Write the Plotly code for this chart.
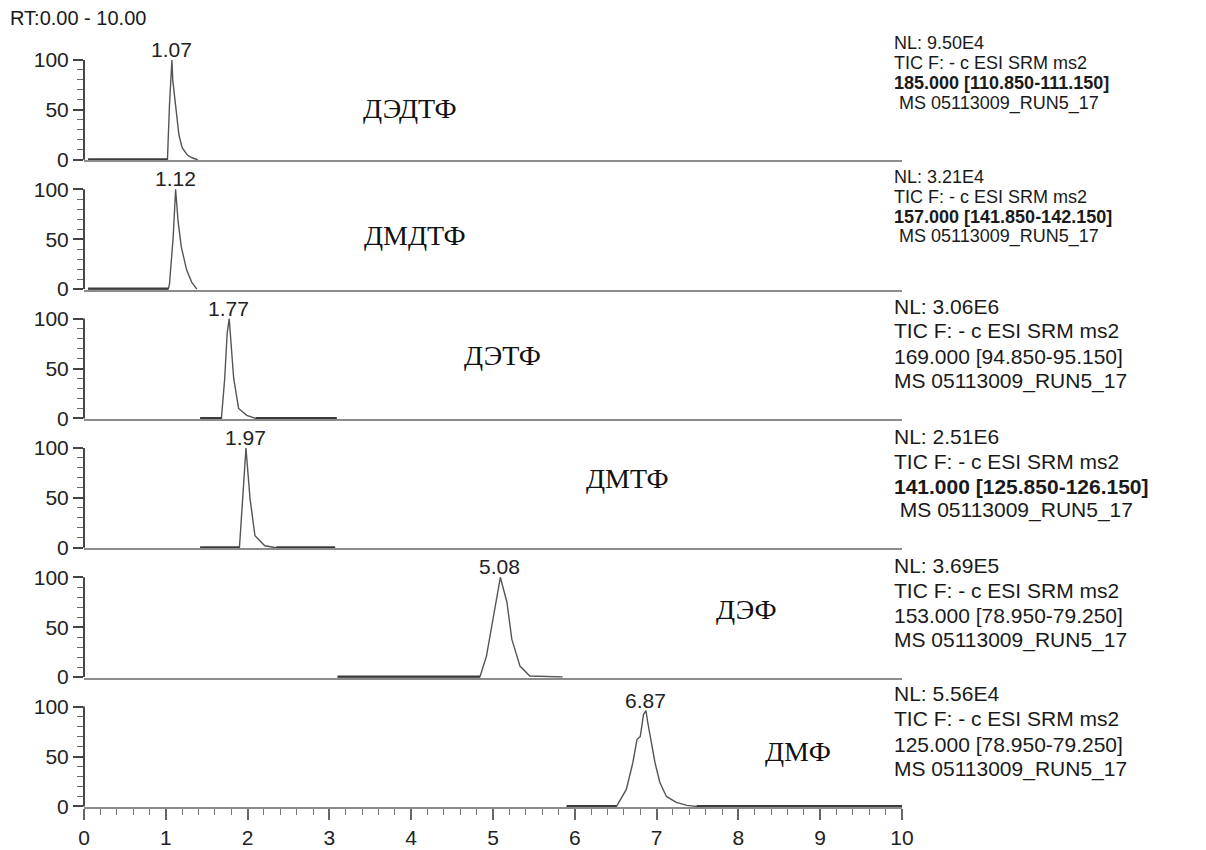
import plotly.graph_objects as go

# ---------------- data ----------------
compounds = ["ДЭДТФ", "ДМДТФ", "ДЭТФ", "ДМТФ", "ДЭФ", "ДМФ"]
retention_times = [1.07, 1.12, 1.77, 1.97, 5.08, 6.87]
nl_values = ["9.50E4", "3.21E4", "3.06E6", "2.51E6", "3.69E5", "5.56E4"]
srm_ranges = ["185.000 [110.850-111.150]", "157.000 [141.850-142.150]",
              "169.000 [94.850-95.150]", "141.000 [125.850-126.150]",
              "153.000 [78.950-79.250]", "125.000 [78.950-79.250]"]
scan_filter = "TIC F: - c ESI SRM ms2"
raw_file = "MS 05113009_RUN5_17"
rt_range_label = "RT:0.00 - 10.00"

# chromatograms (time, min ; relative abundance, %)
dedtf_t = [0.05, 1.02, 1.045, 1.075, 1.085, 1.10, 1.13, 1.16, 1.20, 1.26, 1.32, 1.39]
dedtf_i = [0, 0, 55, 100, 80, 68, 45, 25, 12, 5, 2, 0]

dmdtf_t = [0.05, 1.03, 1.045, 1.09, 1.12, 1.15, 1.19, 1.255, 1.316, 1.38]
dmdtf_i = [0, 0, 5, 52, 100, 68, 42, 19, 7, 0]

detf_t = [1.42, 1.68, 1.72, 1.75, 1.775, 1.80, 1.83, 1.89, 1.99, 2.10, 3.09]
detf_i = [0, 0, 40, 85, 100, 70, 40, 10, 3, 0, 0]

dmtf_t = [1.42, 1.90, 1.95, 1.98, 2.03, 2.09, 2.21, 2.35, 3.07]
dmtf_i = [0, 0, 62, 100, 49, 12, 2, 0, 0]

def_t = [3.10, 4.84, 4.92, 5.00, 5.065, 5.09, 5.17, 5.23, 5.33, 5.45, 5.85]
def_i = [0, 0, 21, 58, 88, 100, 75, 38, 11, 1, 0]

dmf_t = [5.90, 6.51, 6.63, 6.71, 6.76, 6.80, 6.84, 6.87, 6.89, 6.92, 6.98, 7.04,
         7.12, 7.24, 7.37, 7.49, 10.0]
dmf_i = [0, 0, 17, 44, 67, 70, 92, 96, 85, 70, 44, 24, 10, 4, 1, 0, 0]

times = [dedtf_t, dmdtf_t, detf_t, dmtf_t, def_t, dmf_t]
intensities = [dedtf_i, dmdtf_i, detf_i, dmtf_i, def_i, dmf_i]

x_ticks = list(range(0, 11))
y_ticks = [0, 50, 100]
y_minor = [10, 20, 30, 40, 60, 70, 80, 90]

# ---------------- layout constants ----------------
W, H = 1206, 850
ML, MR, MT, MB = 84, 304, 31, 43
N = 6
PH = (H - MT - MB) / N
YR = [-0.6, 129]
SANS = "Liberation Sans, Arial, sans-serif"
SERIF = "Liberation Serif, Times New Roman, serif"

# compound label positions (data coords) per panel
name_pos = [(3.99, 51), (4.05, 54), (5.12, 63), (6.65, 69), (8.1, 68), (8.73, 55)]
# right-hand info text: pixel y of line centres, font size per panel
info_y = [[43, 63, 83, 103], [177, 197, 217, 237], [306, 331, 356, 381],
          [436, 461, 486, 510], [565, 590, 615, 640], [693, 718, 744, 769]]
info_size = [18, 18, 21, 21, 21, 21]
lead_space = [True, True, False, True, False, False]
bold_srm = [True, True, False, True, False, False]

fig = go.Figure()
layout = {}
shapes = []
annotations = []

for k in range(N):
    ax = "" if k == 0 else str(k + 1)
    xa, ya = "x" + ax, "y" + ax
    d0, d1 = 1 - (k + 1) / N, 1 - k / N
    t, inten = times[k], intensities[k]
    last = (k == N - 1)

    fig.add_trace(go.Scatter(x=t, y=inten, mode="lines",
                             line=dict(color="#555555", width=1.4),
                             xaxis=xa, yaxis=ya, showlegend=False, hoverinfo="skip"))
    bx, by = [], []
    for j in range(len(t) - 1):
        if inten[j] == 0 and inten[j + 1] == 0:
            bx += [t[j], t[j + 1], None]
            by += [0, 0, None]
    fig.add_trace(go.Scatter(x=bx, y=by, mode="lines",
                             line=dict(color="#3c3c3c", width=3),
                             xaxis=xa, yaxis=ya, showlegend=False, hoverinfo="skip"))

    layout["xaxis" + ax] = dict(
        domain=[0, 1], range=[0, 10], anchor=ya, showline=True, automargin=False,
        linecolor="#8c8c8c", linewidth=2, showgrid=False, zeroline=False,
        showticklabels=last, ticks="outside" if last else "",
        tickvals=x_ticks, ticklen=11, tickwidth=1.5, tickcolor="#666666",
        tickfont=dict(family=SANS, size=21, color="#222222"),
        minor=dict(dtick=0.2, ticks="outside", ticklen=6, tickcolor="#777777", tickwidth=1)
        if last else dict(ticks=""),
        fixedrange=True,
    )
    layout["yaxis" + ax] = dict(
        domain=[d0, d1], range=YR, anchor=xa, showline=False, showgrid=False,
        automargin=False,
        zeroline=False, tickvals=y_ticks, ticks="outside", ticklen=10,
        tickwidth=1.5, tickcolor="#444444",
        tickfont=dict(family=SANS, size=21, color="#222222"),
        minor=dict(tickvals=y_minor, ticks="outside", ticklen=6, tickcolor="#666666", tickwidth=1),
        fixedrange=True,
    )

    span = YR[1] - YR[0]
    shapes.append(dict(type="line", xref="paper", yref="paper", x0=0, x1=0,
                       y0=d0 + (0 - YR[0]) / span / N, y1=d0 + (100 - YR[0]) / span / N,
                       line=dict(color="#333333", width=1.8)))

    # peak label
    annotations.append(dict(x=retention_times[k], y=max(inten), xref=xa, yref=ya,
                            text=f"{retention_times[k]:.2f}", showarrow=False,
                            yanchor="bottom", xanchor="center", yshift=-3,
                            font=dict(family=SANS, size=21, color="#222222")))
    # compound label
    annotations.append(dict(x=name_pos[k][0], y=name_pos[k][1], xref=xa, yref=ya,
                            text=compounds[k], showarrow=False,
                            font=dict(family=SERIF, size=28, color="#111111")))
    # info text
    srm = srm_ranges[k]
    if bold_srm[k]:
        srm = "<b>" + srm + "</b>"
    lines = ["NL: " + nl_values[k], scan_filter, srm,
             ("\u00a0" if lead_space[k] else "") + raw_file]
    for line, ypx in zip(lines, info_y[k]):
        annotations.append(dict(x=(893 - ML) / (W - ML - MR), y=1 - (ypx - MT) / (H - MT - MB),
                                xref="paper", yref="paper", text=line, showarrow=False,
                                xanchor="left", yanchor="middle", borderpad=0,
                                font=dict(family=SANS, size=info_size[k], color="#1a1a1a")))

annotations.append(dict(x=(8 - ML) / (W - ML - MR), y=1 + (MT - 18) / (H - MT - MB),
                        xref="paper", yref="paper", text=rt_range_label, showarrow=False,
                        xanchor="left", yanchor="middle",
                        font=dict(family=SANS, size=20, color="#1a1a1a")))

fig.update_layout(
    width=W, height=H,
    margin=dict(l=ML, r=MR, t=MT, b=MB, autoexpand=False),
    paper_bgcolor="white", plot_bgcolor="white",
    shapes=shapes, annotations=annotations,
    showlegend=False,
    **layout,
)

fig.write_html("out.html")
